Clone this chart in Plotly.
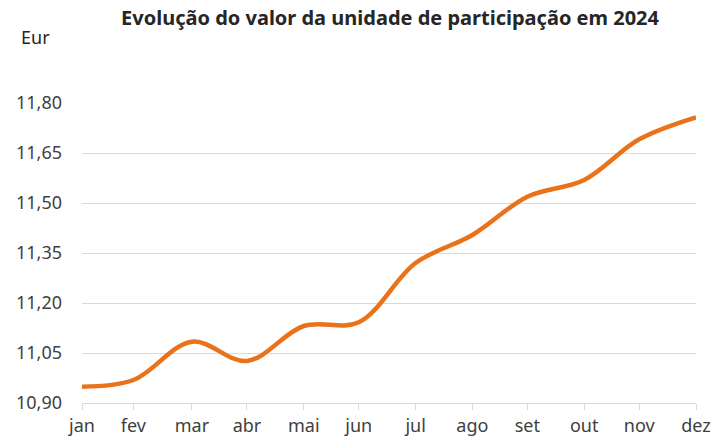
import plotly.graph_objects as go

# Data
dates = ["2024-01-31", "2024-02-28", "2024-03-31", "2024-04-30", "2024-05-31", "2024-06-30",
         "2024-07-31", "2024-08-31", "2024-09-30", "2024-10-31", "2024-11-30", "2024-12-31"]
month_labels = ["jan", "fev", "mar", "abr", "mai", "jun", "jul", "ago", "set", "out", "nov", "dez"]
values = [10.949, 10.969, 11.084, 11.026, 11.131, 11.142, 11.320, 11.404, 11.519, 11.569, 11.691, 11.757]
y_ticks = [10.90, 11.05, 11.20, 11.35, 11.50, 11.65, 11.80]

title_text = "Evolução do valor da unidade de participação em 2024"
unit_text = "Eur"

FONT = "Noto Sans"

fig = go.Figure()
fig.add_trace(go.Scatter(
    x=dates, y=values, mode="lines",
    line=dict(color="#E8731A", width=4.5, shape="spline", smoothing=1.0),
    hoverinfo="x+y", showlegend=False,
))

fig.update_layout(
    width=725, height=443,
    margin=dict(l=82, r=29, t=103, b=40, autoexpand=False),
    paper_bgcolor="white", plot_bgcolor="white",
    separators=",.",
    font=dict(family=FONT, size=18, color="#404040"),
    title=dict(text="<b>" + title_text + "</b>", x=0.538, xanchor="center", y=0.96, yanchor="middle",
               font=dict(family=FONT, size=20, color="#262626")),
    annotations=[dict(text=unit_text, xref="paper", yref="paper", x=-0.076, y=1.22,
                      xanchor="center", yanchor="middle", showarrow=False,
                      font=dict(family=FONT, size=18, color="#262626"))],
)

fig.update_xaxes(
    type="date", range=[dates[0], dates[-1]], automargin=False,
    tickmode="array", tickvals=dates, ticktext=month_labels,
    showgrid=False, showline=True, linecolor="#D9D9D9", linewidth=1,
    ticks="outside", ticklen=6, tickcolor="#D9D9D9",
    tickfont=dict(family=FONT, size=18, color="#404040"),
    zeroline=False,
)
fig.update_yaxes(
    range=[10.90, 11.80], tickmode="array", tickvals=y_ticks, tickformat=".2f",
    showgrid=True, gridcolor="#D9D9D9", gridwidth=1, automargin=False,
    showline=False, zeroline=False, ticks="", ticklabelstandoff=19,
    tickfont=dict(family=FONT, size=18, color="#404040"),
)

fig.write_html("out.html", config={"displayModeBar": False},
               post_script="document.body.style.margin='0';")
